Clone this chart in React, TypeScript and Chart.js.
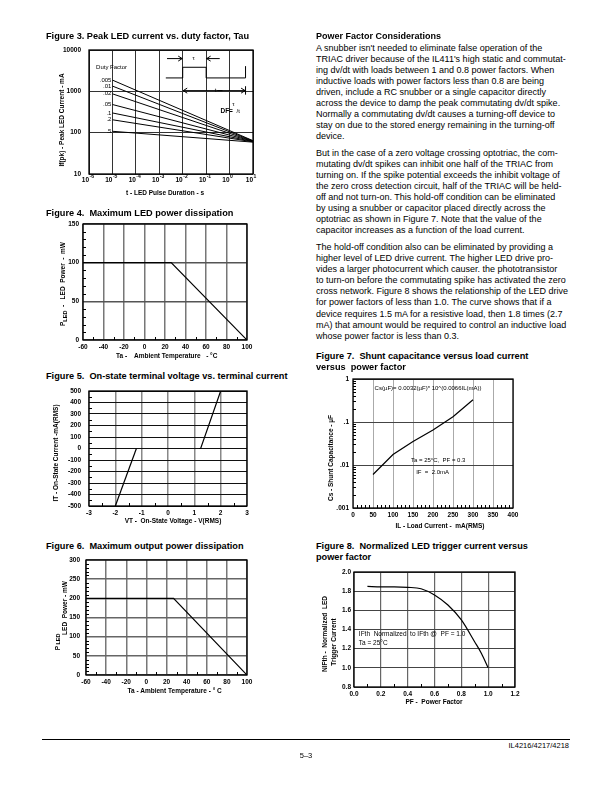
import React, { useEffect, useRef } from 'react';
import { Chart, registerables } from 'chart.js';

Chart.register(...registerables);

const FONT = '"Liberation Sans", Arial, Helvetica, sans-serif';

// ---------- Figure 3 data ----------
const fig3DutyFactors = ['.005', '.01', '.02', '.05', '.1', '.2', '.5'];
const fig3PulseStart = 1e-5;
const fig3PulseEnd = 10;
const fig3CurrentAtStart = [1870, 1340, 870, 480, 300, 205, 108];
const fig3CurrentAtEnd = [64, 63, 62, 62, 61, 60, 59];
const fig3XTicks = [1e-6, 1e-5, 1e-4, 1e-3, 1e-2, 1e-1, 1, 10];
const fig3XExponents = ['-6', '-5', '-4', '-3', '-2', '-1', '0', '1'];
const fig3YTicks = [10, 100, 1000, 10000];
const fig3YLabels = ['10', '100', '1000', '10000'];

// ---------- Figure 4 data ----------
const fig4Temperature = [-60, 26, 100];
const fig4Power = [100, 100, 0];

// ---------- Figure 5 data ----------
const fig5NegVoltage = [-2.0, -1.2];
const fig5NegCurrent = [-500, 0];
const fig5PosVoltage = [1.18, 1.24, 2.0];
const fig5PosCurrent = [0, 0, 500];

// ---------- Figure 6 data ----------
const fig6Temperature = [-60, 27, 100];
const fig6Power = [200, 200, 0];

// ---------- Figure 7 data ----------
const fig7LoadCurrent = [50, 100, 150, 200, 250, 300];
const fig7Capacitance = [0.006, 0.0175, 0.035, 0.065, 0.132, 0.33];
const fig7YTicks = [0.001, 0.01, 0.1, 1];
const fig7YLabels = ['.001', '.01', '.1', '1'];

// ---------- Figure 8 data ----------
const fig8PowerFactor = [0.1, 0.2, 0.3, 0.4, 0.5, 0.6, 0.7, 0.8, 0.9, 0.95, 1.0];
const fig8NIFth = [1.85, 1.845, 1.845, 1.84, 1.825, 1.76, 1.655, 1.5, 1.27, 1.15, 1.0];

// ---------- Body text ----------
const para1 = [
  "A snubber isn't needed to eliminate false operation of the",
  "TRIAC driver because of the IL411's high static and commutat-",
  'ing dv/dt with loads between 1 and 0.8 power factors. When',
  'inductive loads with power factors less than 0.8 are being',
  'driven, include a RC snubber or a single capacitor directly',
  'across the device to damp the peak commutating dv/dt spike.',
  'Normally a commutating dv/dt causes a turning-off device to',
  'stay on due to the stored energy remaining in the turning-off',
  'device.',
];
const para2 = [
  'But in the case of a zero voltage crossing optotriac, the com-',
  'mutating dv/dt spikes can inhibit one half of the TRIAC from',
  'turning on. If the spike potential exceeds the inhibit voltage of',
  'the zero cross detection circuit, half of the TRIAC will be held-',
  'off and not turn-on. This hold-off condition can be eliminated',
  'by using a snubber or capacitor placed directly across the',
  'optotriac as shown in Figure 7. Note that the value of the',
  'capacitor increases as a function of the load current.',
];
const para3 = [
  'The hold-off condition also can be eliminated by providing a',
  'higher level of LED drive current. The higher LED drive pro-',
  'vides a larger photocurrent which causer. the phototransistor',
  'to turn-on before the commutating spike has activated the zero',
  'cross network. Figure 8 shows the relationship of the LED drive',
  'for power factors of less than 1.0. The curve shows that if a',
  'device requires 1.5 mA for a resistive load, then 1.8 times (2.7',
  'mA) that amount would be required to control an inductive load',
  'whose power factor is less than 0.3.',
];

const zip = (xs: number[], ys: number[]) => xs.map((x, i) => ({ x, y: ys[i] }));
const range = (a: number, b: number, step: number, skip: number) => {
  const out: number[] = [];
  for (let v = a; v <= b + 1e-9; v += step) {
    if (Math.abs(v / skip - Math.round(v / skip)) > 1e-6) out.push(v);
  }
  return out;
};
const logMinor = (decades: number[]) => {
  const out: number[] = [];
  decades.forEach((d) => {
    for (let k = 2; k <= 9; k++) out.push(k * d);
  });
  return out;
};

const PAD = { left: 40, top: 8, right: 14, bottom: 18 };

type Geo = { l: number; t: number; r: number; b: number };
type Fn = (v: number) => number;
type Spec = {
  geo: Geo;
  yPad: number;
  datasets: any[];
  x: Record<string, unknown>;
  y: Record<string, unknown>;
  xTicks?: Record<string, unknown>;
  yTicks?: Record<string, unknown>;
  xGrid: [string, number];
  yGrid: [string, number];
  minorX?: number[];
  minorY?: number[];
  decorate?: (X: Fn, Y: Fn, ctx: CanvasRenderingContext2D, a: any) => void;
};

const tickFont = { family: FONT, size: 6.5, weight: 'bold' as const };

function makeConfig(s: Spec) {
  return {
    type: 'scatter' as const,
    data: {
      datasets: s.datasets.map((d) => ({
        showLine: true,
        pointRadius: 0,
        borderColor: '#000',
        borderWidth: 1.2,
        fill: false,
        ...d,
      })),
    },
    options: {
      animation: false as const,
      responsive: false,
      devicePixelRatio: 1,
      layout: { padding: { left: 0, top: PAD.top, right: PAD.right, bottom: 0 } },
      plugins: { legend: { display: false }, tooltip: { enabled: false } },
      scales: {
        x: {
          ...s.x,
          grid: { color: s.xGrid[0], lineWidth: s.xGrid[1], drawTicks: false },
          border: { display: false },
          ticks: { color: '#000', font: tickFont, padding: 3, maxRotation: 0, autoSkip: false, ...(s.xTicks || {}) },
          afterFit: (sc: any) => {
            sc.height = PAD.bottom;
            sc.paddingLeft = 0;
            sc.paddingRight = 0;
          },
        },
        y: {
          ...s.y,
          grid: { color: s.yGrid[0], lineWidth: s.yGrid[1], drawTicks: false },
          border: { display: false },
          ticks: { color: '#000', font: tickFont, padding: s.yPad, autoSkip: false, ...(s.yTicks || {}) },
          afterFit: (sc: any) => {
            sc.width = PAD.left;
            sc.paddingTop = 0;
            sc.paddingBottom = 0;
          },
        },
      },
    },
    plugins: [
      {
        id: 'frame',
        afterDraw(chart: any) {
          const { ctx, chartArea: a, scales } = chart;
          const X = (v: number) => scales.x.getPixelForValue(v);
          const Y = (v: number) => scales.y.getPixelForValue(v);
          ctx.save();
          ctx.strokeStyle = '#000';
          ctx.lineWidth = 1;
          ctx.beginPath();
          (s.minorX || []).forEach((v) => {
            const px = Math.round(X(v)) + 0.5;
            ctx.moveTo(px, a.bottom);
            ctx.lineTo(px, a.bottom - 3);
          });
          (s.minorY || []).forEach((v) => {
            const py = Math.round(Y(v)) + 0.5;
            ctx.moveTo(a.left, py);
            ctx.lineTo(a.left + 3, py);
          });
          ctx.stroke();
          ctx.lineWidth = 1.3;
          ctx.strokeRect(a.left, a.top, a.right - a.left, a.bottom - a.top);
          ctx.fillStyle = '#000';
          if (s.decorate) s.decorate(X, Y, ctx, a);
          ctx.restore();
        },
      },
    ],
  };
}

function arrow(ctx: CanvasRenderingContext2D, x1: number, y1: number, x2: number, y2: number) {
  ctx.beginPath();
  ctx.moveTo(x1, y1);
  ctx.lineTo(x2, y2);
  const dir = Math.sign(x2 - x1);
  ctx.moveTo(x2 - dir * 4, y2 - 2.5);
  ctx.lineTo(x2, y2);
  ctx.lineTo(x2 - dir * 4, y2 + 2.5);
  ctx.stroke();
}

// ---------- Chart specs ----------
const spec3: Spec = {
  geo: { l: 89, t: 50, r: 253, b: 174 },
  yPad: 8,
  datasets: fig3DutyFactors.map((_, i) => ({
    data: [
      { x: fig3PulseStart, y: fig3CurrentAtStart[i] },
      { x: fig3PulseEnd, y: fig3CurrentAtEnd[i] },
    ],
    borderWidth: 1,
  })),
  x: {
    type: 'logarithmic',
    min: 1e-6,
    max: 10,
    afterBuildTicks: (sc: any) => {
      sc.ticks = fig3XTicks.map((v) => ({ value: v }));
    },
  },
  xTicks: { display: false },
  y: {
    type: 'logarithmic',
    min: 10,
    max: 10000,
    afterBuildTicks: (sc: any) => {
      sc.ticks = fig3YTicks.map((v) => ({ value: v }));
    },
  },
  yTicks: { callback: (v: number) => fig3YLabels[fig3YTicks.indexOf(v)] ?? '' },
  xGrid: ['#333', 1],
  yGrid: ['#333', 1],
  decorate: (X, Y, ctx, a) => {
    fig3XTicks.forEach((v, i) => {
      const px = X(v);
      ctx.font = `bold 6.5px ${FONT}`;
      ctx.textAlign = 'right';
      ctx.textBaseline = 'middle';
      ctx.fillText('10', px, a.bottom + 6);
      ctx.font = `bold 5px ${FONT}`;
      ctx.textAlign = 'left';
      ctx.fillText(fig3XExponents[i], px + 0.5, a.bottom + 3);
    });
    ctx.font = `6px ${FONT}`;
    ctx.textAlign = 'right';
    ctx.textBaseline = 'middle';
    fig3DutyFactors.forEach((lab, i) => ctx.fillText(lab, X(fig3PulseStart) - 1, Y(fig3CurrentAtStart[i])));
    ctx.textAlign = 'left';
    ctx.fillText('Duty Factor', X(2e-6), Y(3800));
    // pulse diagram
    ctx.strokeStyle = '#000';
    ctx.lineWidth = 1;
    ctx.beginPath();
    ctx.moveTo(X(0.0019), Y(2110));
    ctx.lineTo(X(0.01), Y(2110));
    ctx.lineTo(X(0.01), Y(3820));
    ctx.lineTo(X(0.1), Y(3820));
    ctx.lineTo(X(0.1), Y(2110));
    ctx.lineTo(X(4.8), Y(2110));
    ctx.lineTo(X(4.8), Y(4070));
    ctx.stroke();
    arrow(ctx, X(0.00214), Y(6200), X(0.0095), Y(6200));
    arrow(ctx, X(0.38), Y(6200), X(0.105), Y(6200));
    arrow(ctx, X(0.5), Y(1040), X(0.0105), Y(1040));
    arrow(ctx, X(0.3), Y(1040), X(4.6), Y(1040));
    ctx.beginPath();
    ctx.moveTo(X(4.8), Y(1330));
    ctx.lineTo(X(4.8), Y(830));
    ctx.stroke();
    ctx.font = `6px ${FONT}`;
    ctx.textAlign = 'center';
    ctx.fillText('τ', X(0.0295), Y(6200));
    ctx.fillText('t', X(0.25), Y(1040));
    ctx.textAlign = 'left';
    ctx.font = `bold 6.5px ${FONT}`;
    ctx.fillText('DF', X(0.41), Y(330));
    ctx.fillText('=', X(0.95), Y(330));
    ctx.font = `6px ${FONT}`;
    ctx.fillText('τ', X(1.3), Y(490));
    ctx.fillText('/t', X(2.0), Y(330));
  },
};

const spec4: Spec = {
  geo: { l: 83, t: 224, r: 247, b: 340 },
  yPad: 4,
  datasets: [{ data: zip(fig4Temperature, fig4Power) }],
  x: { type: 'linear', min: -60, max: 100 },
  xTicks: { stepSize: 20 },
  y: { type: 'linear', min: 0, max: 150 },
  yTicks: { stepSize: 50 },
  xGrid: ['#777', 1.5],
  yGrid: ['#555', 1.5],
  minorX: range(-60, 100, 10, 20),
  minorY: range(0, 150, 10, 50),
};

const spec5: Spec = {
  geo: { l: 89, t: 391, r: 247, b: 506 },
  yPad: 8,
  datasets: [{ data: zip(fig5NegVoltage, fig5NegCurrent) }, { data: zip(fig5PosVoltage, fig5PosCurrent) }],
  x: { type: 'linear', min: -3, max: 3 },
  xTicks: { stepSize: 1, callback: (v: number) => String(v) },
  y: { type: 'linear', min: -500, max: 500 },
  yTicks: { stepSize: 100, callback: (v: number) => String(v) },
  xGrid: ['#888', 1.5],
  yGrid: ['#111', 1],
  minorX: range(-3, 3, 0.5, 1),
  minorY: range(-500, 500, 50, 100),
};

const spec6: Spec = {
  geo: { l: 86, t: 560, r: 247, b: 675 },
  yPad: 6,
  datasets: [{ data: zip(fig6Temperature, fig6Power) }],
  x: { type: 'linear', min: -60, max: 100 },
  xTicks: { stepSize: 20 },
  y: { type: 'linear', min: 0, max: 300 },
  yTicks: { stepSize: 50 },
  xGrid: ['#777', 1.5],
  yGrid: ['#666', 1.5],
  minorX: range(-60, 100, 10, 20),
  minorY: range(0, 300, 10, 50),
};

const spec7: Spec = {
  geo: { l: 353, t: 379, r: 513, b: 508 },
  yPad: 4,
  datasets: [{ data: zip(fig7LoadCurrent, fig7Capacitance) }],
  x: { type: 'linear', min: 0, max: 400 },
  xTicks: { stepSize: 50 },
  y: {
    type: 'logarithmic',
    min: 0.001,
    max: 1,
    afterBuildTicks: (sc: any) => {
      sc.ticks = fig7YTicks.map((v) => ({ value: v }));
    },
  },
  yTicks: { callback: (v: number) => fig7YLabels[fig7YTicks.indexOf(v)] ?? '' },
  xGrid: ['#aaa', 1],
  yGrid: ['#444', 1],
  minorX: range(0, 400, 10, 50),
  minorY: logMinor([0.001, 0.01, 0.1]),
  decorate: (X, Y, ctx) => {
    ctx.font = `6px ${FONT}`;
    ctx.textAlign = 'left';
    ctx.textBaseline = 'middle';
    ctx.fillText('Cs(µF)= 0.0032(µF)* 10^(0.0066IL(mA))', X(54), Y(0.61));
    ctx.fillText('Ta = 25°C,  PF = 0.3', X(145), Y(0.0128));
    ctx.fillText('IF  =  2.0mA', X(158), Y(0.00685));
  },
};

const spec8: Spec = {
  geo: { l: 354, t: 572, r: 515, b: 687 },
  yPad: 3,
  datasets: [{ data: zip(fig8PowerFactor, fig8NIFth), cubicInterpolationMode: 'monotone' }],
  x: { type: 'linear', min: 0, max: 1.2 },
  xTicks: { stepSize: 0.2, callback: (v: number) => v.toFixed(1) },
  y: { type: 'linear', min: 0.8, max: 2.0 },
  yTicks: { stepSize: 0.2, callback: (v: number) => v.toFixed(1) },
  xGrid: ['#666', 1.2],
  yGrid: ['#444', 1],
  minorX: range(0, 1.2, 0.1, 0.2),
  decorate: (X, Y, ctx) => {
    ctx.font = `6.5px ${FONT}`;
    ctx.textAlign = 'left';
    ctx.textBaseline = 'middle';
    ctx.fillText('IFth  Normalized  to IFth @  PF = 1.0', X(0.036), Y(1.35));
    ctx.fillText('Ta = 25°C', X(0.036), Y(1.255));
  },
};

function Plot({ spec }: { spec: Spec }) {
  const ref = useRef<HTMLCanvasElement>(null);
  const { geo } = spec;
  const w = geo.r - geo.l + PAD.left + PAD.right;
  const h = geo.b - geo.t + PAD.top + PAD.bottom;
  useEffect(() => {
    const chart = new Chart(ref.current as HTMLCanvasElement, makeConfig(spec) as any);
    return () => chart.destroy();
  }, [spec]);
  return (
    <canvas
      ref={ref}
      width={w}
      height={h}
      style={{ position: 'absolute', left: geo.l - PAD.left, top: geo.t - PAD.top, width: w, height: h }}
    />
  );
}

function L({
  x,
  y,
  size = 9,
  bold = false,
  align = 'left',
  rot = false,
  children,
}: {
  x: number;
  y: number;
  size?: number;
  bold?: boolean;
  align?: 'left' | 'center' | 'right';
  rot?: boolean;
  children: React.ReactNode;
}) {
  const tx = align === 'left' ? '0' : align === 'center' ? '-50%' : '-100%';
  return (
    <div
      style={{
        position: 'absolute',
        left: x,
        top: y,
        fontSize: size,
        fontWeight: bold ? 'bold' : 'normal',
        lineHeight: 1,
        whiteSpace: 'pre',
        transform: rot ? 'translate(-50%,-50%) rotate(-90deg)' : `translate(${tx},-50%)`,
      }}
    >
      {children}
    </div>
  );
}

function Para({ lines, top }: { lines: string[]; top: number }) {
  return (
    <div style={{ position: 'absolute', left: 316, top, fontSize: 9, lineHeight: '11.1px', whiteSpace: 'pre' }}>
      {lines.map((t, i) => (
        <div key={i}>{t}</div>
      ))}
    </div>
  );
}

const sub: React.CSSProperties = { fontSize: '0.85em', verticalAlign: '-0.35em' };
const AX = 6.5;
const TT = 9.2;

export default function App() {
  return (
    <div
      style={{
        position: 'absolute',
        left: 0,
        top: 0,
        width: 612,
        height: 792,
        background: '#fff',
        color: '#000',
        fontFamily: FONT,
        overflow: 'hidden',
      }}
    >
      <Plot spec={spec3} />
      <Plot spec={spec4} />
      <Plot spec={spec5} />
      <Plot spec={spec6} />
      <Plot spec={spec7} />
      <Plot spec={spec8} />

      {/* Figure titles */}
      <L x={46} y={37.3} size={TT} bold>Figure 3. Peak LED current vs. duty factor, Tau</L>
      <L x={46} y={213.5} size={TT} bold>Figure 4.  Maximum LED power dissipation</L>
      <L x={46} y={377.3} size={TT} bold>Figure 5.  On-state terminal voltage vs. terminal current</L>
      <L x={46} y={546.7} size={TT} bold>Figure 6.  Maximum output power dissipation</L>
      <L x={316} y={356.7} size={TT} bold>Figure 7.  Shunt capacitance versus load current</L>
      <L x={316} y={368.3} size={TT} bold>versus  power factor</L>
      <L x={316} y={547.3} size={TT} bold>Figure 8.  Normalized LED trigger current versus</L>
      <L x={316} y={558.3} size={TT} bold>power factor</L>

      {/* Axis titles */}
      <L x={62} y={120} size={AX} bold rot>If(pk) - Peak LED Current - mA</L>
      <L x={165} y={193.3} size={AX} bold align="center">t - LED Pulse Duration - s</L>

      <L x={64} y={284} size={AX} bold rot>
        P<span style={sub}>LED</span>{'  -   LED  Power  -  mW'}
      </L>
      <L x={166.7} y={355.7} size={AX} bold align="center">{'Ta -    Ambient Temperature   - °C'}</L>

      <L x={56} y={453.3} size={AX} bold rot>IT - On-State Current -mA(RMS)</L>
      <L x={173} y={520.7} size={AX} bold align="center">{'VT -  On-State Voltage - V(RMS)'}</L>

      <L x={57.5} y={648} size={AX} bold rot>P</L>
      <L x={59} y={639} size={5.5} bold rot>LED</L>
      <L x={64.5} y={608} size={AX} bold rot>{'LED  Power - mW'}</L>
      <L x={174.7} y={690.7} size={AX} bold align="center">{'Ta - Ambient Temperature - ° C'}</L>

      <L x={330.7} y={457.5} size={AX} bold rot>Cs - Shunt Capacitance - µF</L>
      <L x={440} y={525.7} size={AX} bold align="center">{'IL - Load Current -  mA(RMS)'}</L>

      <L x={325} y={634} size={AX} bold rot>{'NIFth -  Normalized  LED'}</L>
      <L x={334} y={642} size={AX} bold rot>Trigger Current</L>
      <L x={434} y={702.3} size={AX} bold align="center">{'PF -  Power Factor'}</L>

      {/* Text column */}
      <L x={316} y={36} bold>Power Factor Considerations</L>
      <Para lines={para1} top={42.6} />
      <Para lines={para2} top={147.6} />
      <Para lines={para3} top={242} />

      {/* Footer */}
      <div style={{ position: 'absolute', left: 42, top: 739, width: 528, borderTop: '1px solid #000' }} />
      <L x={569} y={746} size={7.5} align="right">IL4216/4217/4218</L>
      <L x={306} y={756} size={7.5} align="center">5–3</L>
    </div>
  );
}
